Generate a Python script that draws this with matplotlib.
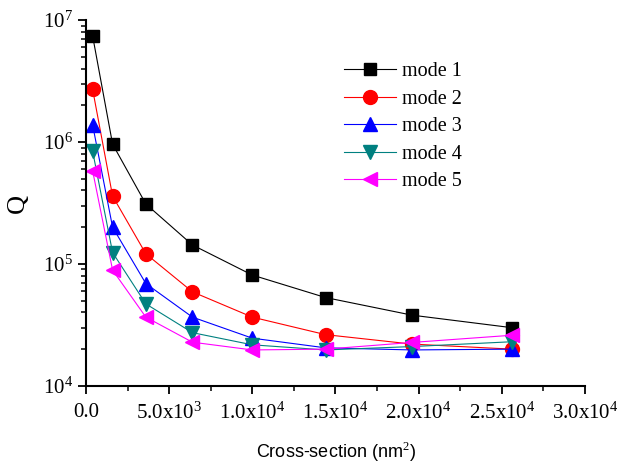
import math

import matplotlib
matplotlib.use("Agg")
import matplotlib.pyplot as plt
from matplotlib.ticker import FixedLocator, FuncFormatter, LogLocator, NullFormatter

# cross-section (nm^2)
cross_section = [400, 1600, 3600, 6400, 10000, 14400, 19600, 25600]

q_mode1 = [7.4e6, 9.6e5, 3.1e5, 1.43e5, 8.1e4, 5.3e4, 3.8e4, 3.0e4]
q_mode2 = [2.7e6, 3.6e5, 1.21e5, 5.9e4, 3.66e4, 2.63e4, 2.2e4, 2.0e4]
q_mode3 = [1.38e6, 2.0e5, 6.9e4, 3.66e4, 2.46e4, 2.05e4, 1.97e4, 2.0e4]
q_mode4 = [8.4e5, 1.24e5, 4.7e4, 2.73e4, 2.17e4, 1.97e4, 2.1e4, 2.3e4]
q_mode5 = [5.8e5, 8.9e4, 3.66e4, 2.28e4, 1.97e4, 2.0e4, 2.27e4, 2.6e4]

series = [
    ("mode 1", q_mode1, "black", "s", 9),
    ("mode 2", q_mode2, "red", "o", 10),
    ("mode 3", q_mode3, "blue", "^", 10),
    ("mode 4", q_mode4, "#008080", "v", 10),
    ("mode 5", q_mode5, "magenta", "<", 10),
]

plt.rcParams["font.family"] = "Liberation Serif"
plt.rcParams["mathtext.fontset"] = "custom"
plt.rcParams["mathtext.rm"] = "Liberation Serif"

fig = plt.figure(figsize=(6.23, 4.66), dpi=100)
ax = fig.add_axes([0.138, 0.172, 0.801, 0.785])

for name, q, color, marker, ms in series:
    ax.plot(cross_section, q, color=color, marker=marker, markersize=ms,
            linewidth=0.8, label=name)

ax.set_yscale("log")
ax.set_xlim(0, 30000)
ax.set_ylim(1e4, 1e7)

ax.spines["top"].set_visible(False)
ax.spines["right"].set_visible(False)
ax.spines["left"].set_linewidth(1.5)
ax.spines["bottom"].set_linewidth(1.5)

ax.xaxis.set_major_locator(FixedLocator([0, 5000, 10000, 15000, 20000, 25000, 30000]))
ax.xaxis.set_minor_locator(FixedLocator([2500, 7500, 12500, 17500, 22500, 27500]))


def xfmt(v, pos):
    if v == 0:
        return "0.0"
    exp = 3 if v < 10000 else 4
    return r"$\mathregular{%.1fx10^{%d}}$" % (v / 10 ** exp, exp)


def yfmt(v, pos):
    return r"$\mathregular{10^{%d}}$" % round(math.log10(v))


ax.xaxis.set_major_formatter(FuncFormatter(xfmt))
ax.yaxis.set_major_locator(LogLocator(base=10, numticks=10))
ax.yaxis.set_minor_locator(LogLocator(base=10, subs=range(2, 10), numticks=10))
ax.yaxis.set_minor_formatter(NullFormatter())
ax.yaxis.set_major_formatter(FuncFormatter(yfmt))

ax.tick_params(which="major", direction="out", length=6, width=1.3, labelsize=15)
ax.tick_params(axis="x", which="major", pad=6)
ax.tick_params(which="minor", direction="out", length=3.5, width=1.1)

ax.set_ylabel("Q", fontsize=19, labelpad=10)
ax.set_xlabel(r"Cross-section (nm$^2$)", fontsize=13, family="Liberation Sans", labelpad=12)

ax.legend(loc="upper left", bbox_to_anchor=(0.48, 0.935), frameon=False,
          fontsize=14.5, handlelength=2.6, handletextpad=0.3, labelspacing=0.42)

fig.savefig("out.png", dpi=100)
